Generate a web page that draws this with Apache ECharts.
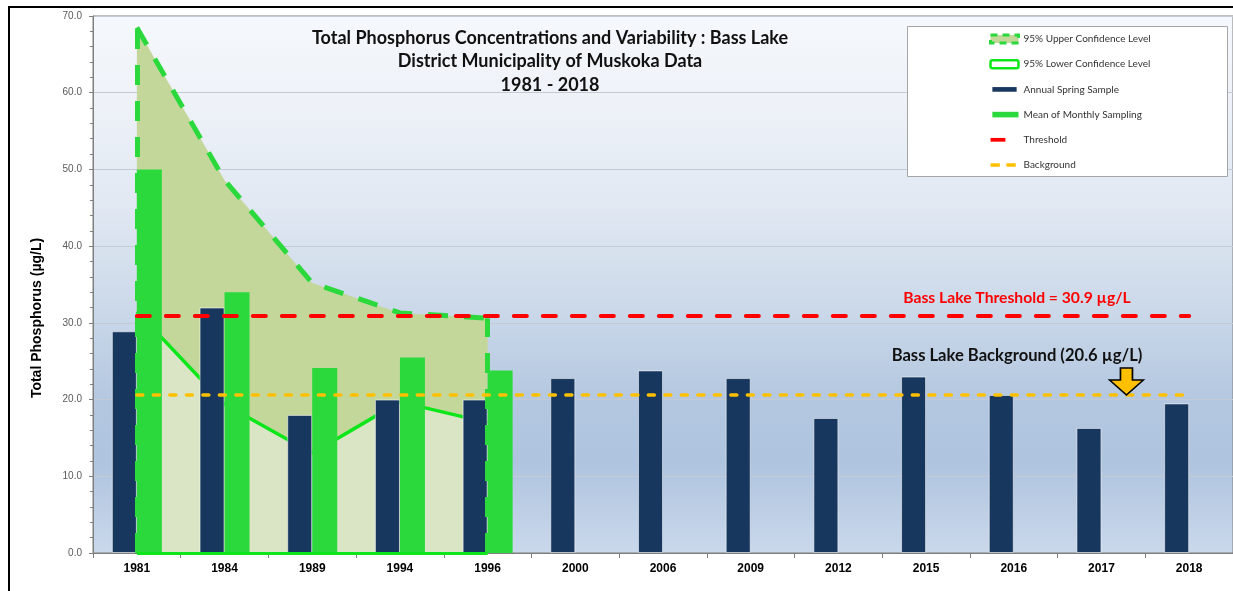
<!DOCTYPE html>
<html>
<head>
<meta charset="utf-8">
<script src="https://cdn.jsdelivr.net/npm/echarts@6/dist/echarts.min.js"></script>
<style>
  html, body { margin: 0; padding: 0; background: #fff; }
  #chart { width: 1233px; height: 591px; }
</style>
</head>
<body>
<div id="chart"></div>
<script>
// sampling years (category axis)
const years = ['1981', '1984', '1989', '1994', '1996', '2000', '2006', '2009', '2012', '2015', '2016', '2017', '2018'];
// annual spring sample (µg/L)
const springSample = [28.9, 32.0, 18.0, 20.0, 20.0, 22.8, 23.8, 22.8, 17.6, 23.0, 20.6, 16.3, 19.5];
// mean of monthly sampling, only up to 1996
const monthlyMean = [50.0, 34.0, 24.1, 25.5, 23.8, null, null, null, null, null, null, null, null];
// 95% confidence levels around the monthly mean
const upperCL = [68.5, 48.6, 35.2, 31.3, 30.6, null, null, null, null, null, null, null, null];
const lowerCL = [31.5, 19.4, 13.0, 19.7, 17.0, null, null, null, null, null, null, null, null];
const yTicks = [0, 10, 20, 30, 40, 50, 60, 70];
const threshold = 30.9;
const background = 20.6;

const chart = echarts.init(document.getElementById('chart'));

const calibri = 'Lato, "Open Sans", sans-serif';
const arial = '"Liberation Sans", Arial, sans-serif';
const firstYear = years[0];
const lastYear = years[years.length - 1];
const lastCLYear = years[4];

const option = {
  animation: false,
  backgroundColor: '#fff',
  title: {
    text: 'Total Phosphorus Concentrations and Variability : Bass Lake\nDistrict Municipality of Muskoka Data\n1981 - 2018',
    left: 550,
    top: 26,
    padding: 0,
    textAlign: 'center',
    textStyle: {
      fontFamily: calibri,
      fontWeight: 'bold',
      fontSize: 18,
      lineHeight: 23.5,
      color: '#111'
    }
  },
  legend: {
    orient: 'vertical',
    left: 984,
    top: 28,
    itemWidth: 28,
    itemHeight: 8,
    itemGap: 13.2,
    z: 10,
    selectedMode: false,
    textStyle: { fontFamily: calibri, fontSize: 10, lineHeight: 12, color: '#333' },
    data: [
      { name: '95% Upper Confidence Level', icon: 'rect',
        itemStyle: { color: '#c4d79b', borderColor: '#2bd93c', borderWidth: 3, borderType: [7, 5] } },
      { name: '95% Lower Confidence Level', icon: 'roundRect',
        itemStyle: { color: '#fff', borderColor: '#0de61a', borderWidth: 2.5 } },
      { name: 'Annual Spring Sample', icon: 'path://M2,1.5H28V6.5H2Z M0,0L0,0 M30,8L30,8',
        itemStyle: { color: '#17375e', borderWidth: 0 } },
      { name: 'Mean of Monthly Sampling', icon: 'path://M2,1H30V7H2Z M0,0L0,0 M30,8L30,8',
        itemStyle: { color: '#2bd93c', borderWidth: 0 } },
      { name: 'Threshold', icon: 'path://M0,2H16V6H0Z M0,0L0,0 M30,8L30,8',
        itemStyle: { color: '#ff0000', borderWidth: 0 } },
      { name: 'Background', icon: 'path://M0,2H10V6H0Z M17,2H27V6H17Z M0,0L0,0 M30,8L30,8',
        itemStyle: { color: '#ffc000', borderWidth: 0 } }
    ]
  },
  grid: {
    left: 93,
    right: -3,
    top: 16,
    bottom: 38,
    show: true,
    borderColor: '#7f7f7f',
    borderWidth: 1,
    backgroundColor: new echarts.graphic.LinearGradient(0, 0, 0, 1, [
      { offset: 0, color: '#f5f8fc' },
      { offset: 0.16, color: '#eef2f8' },
      { offset: 0.34, color: '#e2e9f3' },
      { offset: 0.53, color: '#cddaea' },
      { offset: 0.72, color: '#b3c7e0' },
      { offset: 0.83, color: '#afc4df' },
      { offset: 1, color: '#cad8eb' }
    ])
  },
  xAxis: {
    type: 'category',
    data: years,
    boundaryGap: true,
    axisLine: { lineStyle: { color: '#7f7f7f' } },
    axisTick: { show: true, length: 5, lineStyle: { color: '#7f7f7f' } },
    axisLabel: { fontFamily: arial, fontWeight: 'bold', fontSize: 12, color: '#000', margin: 10 }
  },
  yAxis: {
    type: 'value',
    min: yTicks[0],
    max: yTicks[yTicks.length - 1],
    interval: 10,
    axisLine: { show: true, lineStyle: { color: '#7f7f7f' } },
    axisTick: { show: true, length: 4, lineStyle: { color: '#7f7f7f' } },
    minorTick: { show: true, splitNumber: 5, length: 3, lineStyle: { color: '#7f7f7f' } },
    splitLine: { lineStyle: { color: '#c4cad3' } },
    axisLabel: {
      fontFamily: arial, fontSize: 10, color: '#595959', margin: 11,
      formatter: v => v.toFixed(1)
    }
  },
  graphic: [
    { type: 'rect', z: 9, shape: { x: 907.5, y: 26.5, width: 320, height: 150 },
      style: { fill: '#fff', stroke: '#a6a6a6', lineWidth: 1 } },
    { type: 'rect', z: 100, shape: { x: 9, y: 7, width: 1400, height: 800 },
      style: { fill: 'none', stroke: '#000', lineWidth: 2 } },
    { type: 'text', z: 20, x: 37, y: 318, rotation: Math.PI / 2,
      style: { text: 'Total Phosphorus (µg/L)', font: 'bold 14px ' + arial, fill: '#000',
        align: 'center', verticalAlign: 'middle' } },
    { type: 'text', z: 20, x: 1017, y: 298,
      style: { text: 'Bass Lake Threshold = 30.9 µg/L', font: 'bold 15.7px ' + calibri, fill: '#ff0000',
        align: 'center', verticalAlign: 'middle' } },
    { type: 'text', z: 20, x: 1017, y: 356,
      style: { text: 'Bass Lake Background (20.6 µg/L)', font: 'bold 16.6px ' + calibri, fill: '#111',
        align: 'center', verticalAlign: 'middle' } }
  ],
  series: [
    {
      name: '95% Upper Confidence Level',
      type: 'line',
      z: 1,
      data: upperCL,
      showSymbol: false,
      symbol: 'none',
      lineStyle: { color: '#2bd93c', width: 5, type: [20, 16] },
      areaStyle: { color: '#c4d79b', opacity: 1 },
      markLine: {
        silent: true,
        symbol: ['none', 'none'],
        label: { show: false },
        lineStyle: { color: '#2bd93c', width: 5, type: [20, 16] },
        data: [
          [{ coord: [firstYear, 0] }, { coord: [firstYear, upperCL[0]] }],
          [{ coord: [lastCLYear, 0] }, { coord: [lastCLYear, upperCL[4]] }]
        ]
      }
    },
    {
      name: '95% Lower Confidence Level',
      type: 'line',
      z: 2,
      data: lowerCL,
      showSymbol: false,
      symbol: 'none',
      lineStyle: { color: '#0de61a', width: 3.5 },
      areaStyle: { color: '#dae5c5', opacity: 1 },
      markLine: {
        silent: true,
        symbol: ['none', 'none'],
        label: { show: false },
        lineStyle: { color: '#0de61a', width: 3, type: 'solid' },
        data: [
          [{ coord: [firstYear, 0] }, { coord: [lastCLYear, 0] }]
        ]
      }
    },
    {
      name: 'Annual Spring Sample',
      type: 'bar',
      z: 3,
      data: springSample,
      barWidth: 25,
      barGap: '0%',
      itemStyle: { color: '#17375e', borderColor: 'rgba(255,255,255,0.55)', borderWidth: 1 }
    },
    {
      name: 'Mean of Monthly Sampling',
      type: 'bar',
      z: 3,
      data: monthlyMean,
      barWidth: 25,
      barGap: '0%',
      itemStyle: { color: '#2bd93c' }
    },
    {
      name: 'Threshold',
      type: 'line',
      z: 4,
      data: [],
      markLine: {
        silent: true,
        symbol: ['none', 'none'],
        label: { show: false },
        lineStyle: { color: '#ff0000', width: 4, type: [13, 16], cap: 'round' },
        data: [[{ coord: [firstYear, threshold] }, { coord: [lastYear, threshold] }]]
      }
    },
    {
      name: 'Background',
      type: 'line',
      z: 4,
      data: [],
      markLine: {
        silent: true,
        symbol: ['none', 'none'],
        label: { show: false },
        lineStyle: { color: '#ffc000', width: 3.5, type: [6, 10.5], cap: 'round' },
        data: [[{ coord: [firstYear, background] }, { coord: [lastYear, background] }]]
      },
      markPoint: {
        silent: true,
        label: { show: false },
        data: [{
          coord: ['2017', background],
          symbol: 'path://M11,0H23V12H34L17,27L0,12H11Z',
          symbolSize: [34, 27],
          symbolOffset: [25, -13.5],
          itemStyle: { color: '#ffc000', borderColor: '#000', borderWidth: 1.5 }
        }]
      }
    }
  ]
};

chart.setOption(option);
</script>
</body>
</html>
